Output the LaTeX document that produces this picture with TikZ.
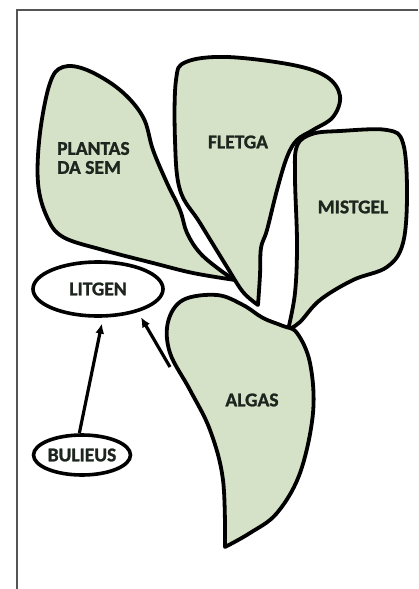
\documentclass[tikz,border=0pt]{standalone}
\usepackage{fontspec}
\setmainfont{Carlito}[BoldFeatures={FakeBold=1.2}]
\usetikzlibrary{shapes.geometric,arrows.meta}
\definecolor{leaf}{RGB}{213,226,199}
\definecolor{ink}{RGB}{30,36,30}
\definecolor{framec}{RGB}{85,85,85}
\tikzset{
  leafshape/.style={draw=black,fill=leaf,line width=3.8pt,line join=round},
  lbl/.style={font=\bfseries\fontsize{19.5}{22}\selectfont,text=ink,inner sep=0pt},
  oval/.style={ellipse,draw=black,fill=white,line width=3.6pt,inner sep=0pt,font=\bfseries\fontsize{19.5}{22}\selectfont,text=ink},
  arr/.style={line width=3.2pt,-{Latex[length=10pt,width=9pt]}}
}
\begin{document}
\begin{tikzpicture}[x=1pt,y=-1pt]
\useasboundingbox (0,0) rectangle (418,589);
% frame
\draw[framec,line width=2pt] (17,589) -- (17,10) -- (418,10);
% PLANTAS DA SEM
\draw[leafshape] plot[smooth,tension=0.6] coordinates {(235,280) (220,270) (200,253) (187,233) (180,210) (167,183) (153,150) (143,117) (120,90) (87,70) (63,67) (50,83) (40,133) (38,183) (47,217) (63,237) (103,250) (153,263) (193,273) (235,280)} -- cycle;
% FLETGA
\draw[leafshape] plot[smooth,tension=0.6] coordinates {(258,305) (243,292) (227,267) (200,223) (180,190) (175,140) (176,80) (186,62) (227,57) (293,65) (327,77) (340,96) (333,117) (313,130) (297,140) (287,157) (277,190) (267,230) (261,248) (260,275) (258,305)} -- cycle;
% MISTGEL
\draw[leafshape] plot[smooth,tension=0.6] coordinates {(288,330) (295,293) (297,243) (295,177) (297,146) (312,134) (340,131) (387,130) (403,143) (407,193) (403,243) (387,267) (353,280) (320,300) (300,322) (288,330)} -- cycle;
% ALGAS
\draw[leafshape] plot[smooth,tension=0.6] coordinates {(225,547) (223,480) (210,430) (190,390) (170,353) (168,322) (183,300) (217,295) (243,305) (263,318) (283,326) (297,333) (310,363) (313,413) (300,473) (277,513) (250,533) (225,547)} -- cycle;
% labels
\node[lbl,align=left,anchor=west] (plantas) at (57,158) {PLANTAS\\[-3pt]DA SEM};
\node[lbl] (fletga) at (238,142) {FLETGA};
\node[lbl] (mistgel) at (353,207) {MISTGEL};
\node[lbl] (algas) at (252,400) {ALGAS};
\coordinate (algasedge) at (170,367);
% ovals
\node[oval,minimum width=130pt,minimum height=54pt] (litgen) at (98,289) {LITGEN};
\node[oval,minimum width=90pt,minimum height=40pt] (bulieus) at (82,455) {BULIEUS};
% arrows
\draw[arr,shorten >=6pt] (bulieus.97) -- (litgen.-80);
\draw[arr,shorten >=6pt] (algasedge) -- (litgen.-30);
\end{tikzpicture}
\end{document}
